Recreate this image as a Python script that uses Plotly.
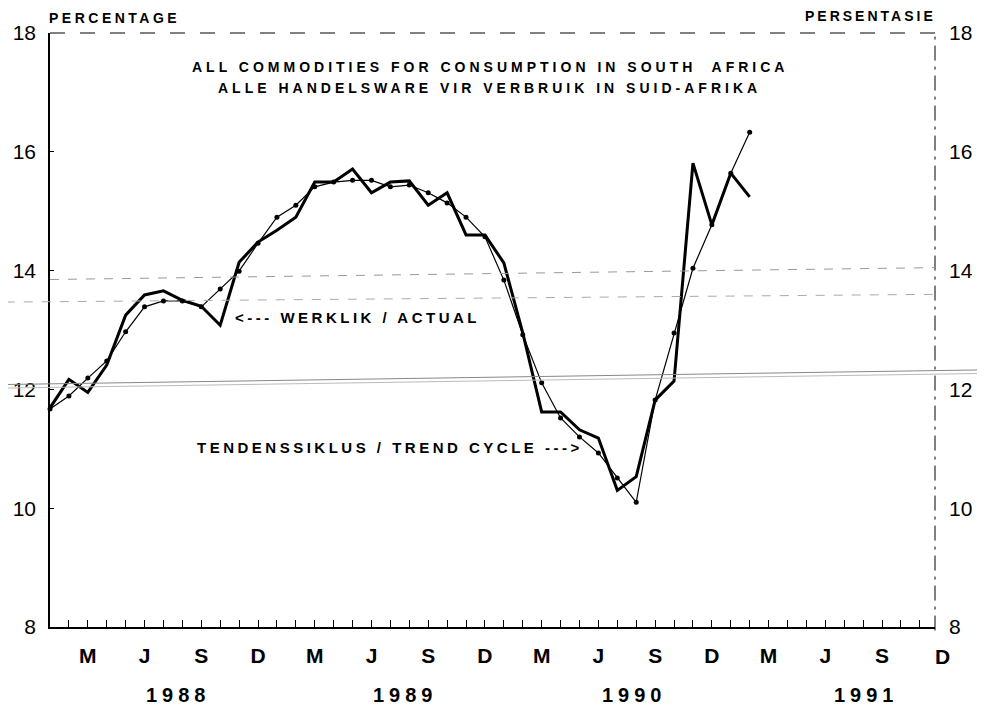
import plotly.graph_objects as go

# Month index: 0 = Jan 1988
months_actual = list(range(0, 38))
actual = [11.69, 12.17, 11.95, 12.41, 13.25, 13.59, 13.66, 13.50, 13.40, 13.08, 14.14, 14.48,
          14.68, 14.90, 15.49, 15.49, 15.71, 15.31, 15.49, 15.51, 15.10, 15.31, 14.60, 14.60,
          14.13, 12.95, 11.62, 11.62, 11.32, 11.18, 10.30, 10.53, 11.82, 12.14, 15.81, 14.77,
          15.64, 15.24]

months_trend = list(range(0, 38))
trend = [11.67, 11.89, 12.19, 12.48, 12.97, 13.39, 13.49, 13.49, 13.39, 13.69, 13.99, 14.46,
         14.90, 15.10, 15.41, 15.49, 15.52, 15.52, 15.41, 15.44, 15.31, 15.14, 14.90, 14.57,
         13.84, 12.92, 12.11, 11.52, 11.20, 10.93, 10.51, 10.10, 11.82, 12.95, 14.04, 14.77,
         15.64, 16.33]

X_RANGE = [0, 46.8]
month_ticks = list(range(0, 47))
quarter_labels = {2: "M", 5: "J", 8: "S", 11: "D"}
month_text = ["<b>%s</b>" % quarter_labels[m % 12] if (m % 12) in quarter_labels else ""
              for m in month_ticks]
last_month_label = "D"
last_month_pos = 47
years = ["1988", "1989", "1990", "1991"]
year_pos = [6.8, 18.8, 30.9, 43.2]
y_ticks = [8, 10, 12, 14, 16, 18]

FONT = "Liberation Sans"

fig = go.Figure()
fig.add_trace(go.Scatter(x=months_trend, y=trend, mode="lines+markers",
                         line=dict(color="black", width=1.2),
                         marker=dict(color="black", size=5), showlegend=False, cliponaxis=False))
fig.add_trace(go.Scatter(x=months_actual, y=actual, mode="lines",
                         line=dict(color="black", width=3), showlegend=False))
fig.add_trace(go.Scatter(x=months_actual, y=actual, mode="lines", yaxis="y2",
                         line=dict(color="rgba(0,0,0,0)", width=0), showlegend=False,
                         hoverinfo="skip"))


def spaced(t, sp=2):
    return '<span style="letter-spacing:%spx">%s</span>' % (sp, t)


# paper position of the month beyond the axis range (Dec 1991)
last_x_paper = (last_month_pos - X_RANGE[0]) / (X_RANGE[1] - X_RANGE[0])

annotations = [
    dict(text="<b>" + spaced("ALL COMMODITIES FOR CONSUMPTION IN SOUTH  AFRICA", 4) + "</b>",
         x=0.497, y=0.943, xref="paper", yref="paper", xanchor="center", yanchor="middle",
         showarrow=False, font=dict(family=FONT, size=14, color="black")),
    dict(text="<b>" + spaced("ALLE HANDELSWARE VIR VERBRUIK IN SUID-AFRIKA", 4) + "</b>",
         x=0.497, y=0.908, xref="paper", yref="paper", xanchor="center", yanchor="middle",
         showarrow=False, font=dict(family=FONT, size=14, color="black")),
    dict(text="<b>" + spaced("PERCENTAGE", 3.5) + "</b>", x=-0.003, y=1.026, xref="paper",
         yref="paper", xanchor="left", yanchor="middle", showarrow=False,
         font=dict(family=FONT, size=14, color="black")),
    dict(text="<b>" + spaced("PERSENTASIE", 3) + "</b>", x=1.003, y=1.029, xref="paper",
         yref="paper", xanchor="right", yanchor="middle", showarrow=False,
         font=dict(family=FONT, size=14, color="black")),
    dict(text="<b>" + spaced("<--- WERKLIK / ACTUAL", 3.5) + "</b>", x=0.207, y=0.521,
         xref="paper", yref="paper", xanchor="left", yanchor="middle", showarrow=False,
         font=dict(family=FONT, size=15, color="black")),
    dict(text="<b>" + spaced("TENDENSSIKLUS / TREND CYCLE --->", 3.5) + "</b>", x=0.164,
         y=0.302, xref="paper", yref="paper", xanchor="left", yanchor="middle",
         showarrow=False, font=dict(family=FONT, size=15, color="black")),
    dict(text="<b>%s</b>" % last_month_label, x=last_x_paper + 0.004, y=-0.049, xref="paper",
         yref="paper", xanchor="center", yanchor="middle", showarrow=False,
         font=dict(family=FONT, size=21, color="black")),
]
for yr, pos in zip(years, year_pos):
    annotations.append(dict(text="<b>" + spaced(yr, 5) + "</b>", x=pos, y=-0.1145, xref="x",
                            yref="paper", xanchor="center", yanchor="middle",
                            showarrow=False, font=dict(family=FONT, size=20, color="black")))

shapes = [
    # top border (dashed, as in the scan)
    dict(type="line", xref="paper", yref="paper", x0=0, x1=1, y0=1, y1=1,
         line=dict(color="black", width=1, dash="longdash")),
    # right border
    dict(type="line", xref="paper", yref="paper", x0=1, x1=1, y0=-0.006, y1=1,
         line=dict(color="black", width=1, dash="longdashdot")),
    # faint scan lines
    dict(type="line", xref="paper", yref="paper", x0=-0.06, x1=1.06, y0=0.408, y1=0.433,
         line=dict(color="#888", width=1)),
    dict(type="line", xref="paper", yref="paper", x0=-0.06, x1=1.06, y0=0.402, y1=0.427,
         line=dict(color="#bbb", width=1)),
    dict(type="line", xref="paper", yref="paper", x0=0.0, x1=1.0, y0=0.585, y1=0.605,
         line=dict(color="#999", width=1, dash="dash")),
    dict(type="line", xref="paper", yref="paper", x0=-0.05, x1=1.0, y0=0.547, y1=0.56,
         line=dict(color="#aaa", width=1, dash="dash")),
]

fig.update_layout(
    width=977, height=703,
    margin=dict(l=42, r=50, t=25, b=84, autoexpand=False),
    paper_bgcolor="white", plot_bgcolor="white",
    showlegend=False,
    annotations=annotations,
    shapes=shapes,
    xaxis=dict(range=X_RANGE, tickmode="array", tickvals=month_ticks, ticktext=month_text,
               ticks="inside", ticklen=7, tickcolor="black", tickwidth=1,
               showline=True, linecolor="black", linewidth=1.5, showgrid=False, zeroline=False,
               tickfont=dict(family=FONT, size=21, color="black"), ticklabelstandoff=9,
               automargin=False),
    yaxis=dict(range=[8, 18], tickmode="array", tickvals=y_ticks, ticks="inside", ticklen=4,
               tickcolor="black", showline=True, linecolor="black", linewidth=1.5,
               showgrid=False, zeroline=False, ticklabelstandoff=8, automargin=False,
               tickfont=dict(family=FONT, size=21, color="black")),
    yaxis2=dict(range=[8, 18], tickmode="array", tickvals=y_ticks, overlaying="y", side="right",
                ticks="", showline=False, showgrid=False, zeroline=False,
                ticklabelstandoff=13, automargin=False,
                tickfont=dict(family=FONT, size=21, color="black")),
)

fig.write_html("out.html")
